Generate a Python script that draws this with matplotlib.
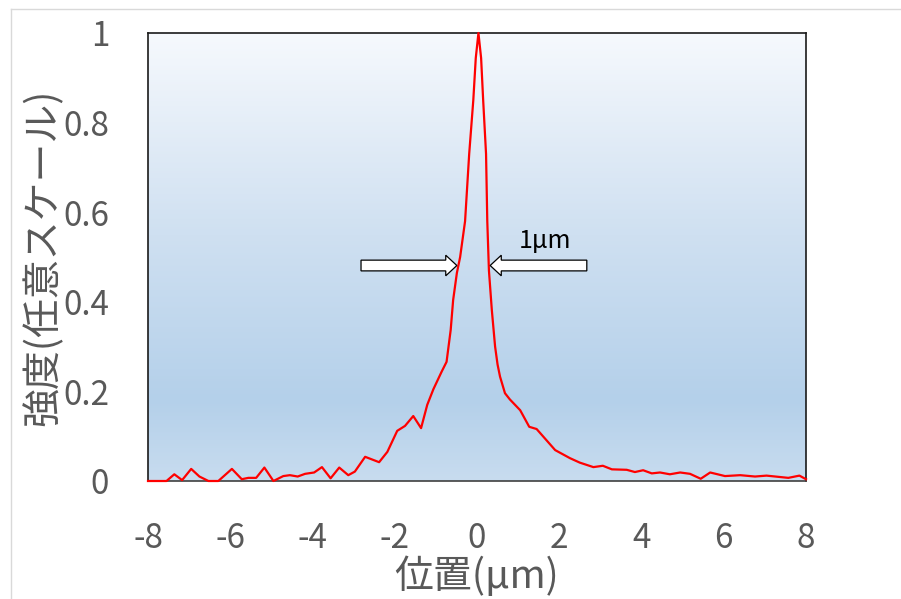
import matplotlib
matplotlib.use("Agg")
import matplotlib.pyplot as plt
import numpy as np
from matplotlib.colors import LinearSegmentedColormap
from matplotlib.patches import FancyArrow
from matplotlib.lines import Line2D

plt.rcParams['font.family'] = ['Noto Sans CJK JP', 'DejaVu Sans']

# intensity profile
pos = [-8.0, -7.55, -7.36, -7.17, -6.95, -6.75, -6.53, -6.29, -5.96, -5.72,
       -5.56, -5.37, -5.17, -4.95, -4.71, -4.55, -4.36, -4.18, -3.96, -3.77,
       -3.56, -3.35, -3.13, -2.97, -2.72, -2.38, -2.18, -1.94, -1.75, -1.55,
       -1.36, -1.21, -1.06, -0.86, -0.74, -0.64, -0.58, -0.49, -0.41, -0.29,
       -0.19, -0.09, -0.03, 0.035, 0.10, 0.15, 0.22, 0.25, 0.29, 0.36,
       0.44, 0.50, 0.56, 0.68, 0.80, 1.05, 1.27, 1.45, 1.90, 2.26,
       2.50, 2.83, 3.06, 3.28, 3.64, 3.84, 4.04, 4.25, 4.45, 4.69,
       4.94, 5.18, 5.44, 5.67, 6.03, 6.40, 6.76, 7.04, 7.57, 7.84, 8.0]
intensity = [0.0, 0.0, 0.015, 0.002, 0.027, 0.010, 0.0, 0.0, 0.027, 0.004,
             0.007, 0.007, 0.030, 0.0, 0.011, 0.013, 0.010, 0.016, 0.019, 0.031,
             0.006, 0.030, 0.013, 0.021, 0.054, 0.042, 0.065, 0.112, 0.123, 0.145,
             0.118, 0.170, 0.205, 0.244, 0.266, 0.337, 0.404, 0.464, 0.50, 0.58,
             0.73, 0.85, 0.944, 1.0, 0.944, 0.85, 0.73, 0.58, 0.47, 0.382,
             0.30, 0.26, 0.233, 0.196, 0.182, 0.158, 0.121, 0.116, 0.069, 0.051,
             0.041, 0.031, 0.034, 0.026, 0.025, 0.020, 0.024, 0.017, 0.019, 0.015,
             0.019, 0.016, 0.005, 0.019, 0.011, 0.013, 0.010, 0.012, 0.007, 0.012, 0.004]

xticks = [-8, -6, -4, -2, 0, 2, 4, 6, 8]
yticks = [0, 0.2, 0.4, 0.6, 0.8, 1]
ytick_labels = ['0', '0.2', '0.4', '0.6', '0.8', '1']

fig = plt.figure(figsize=(9.01, 5.99), dpi=100)
ax = fig.add_axes([148/901, 118/599, 658/901, 448/599])

# background gradient, white at top to blue near the bottom
cmap = LinearSegmentedColormap.from_list(
    'bg', [(0.0, '#c8dcef'), (0.18, '#b4d0ea'), (0.55, '#cfe0f1'), (1.0, '#f6f9fd')])
grad = np.linspace(0, 1, 256).reshape(-1, 1)
ax.imshow(grad, cmap=cmap, aspect='auto', extent=[-8, 8, 0, 1], origin='lower', zorder=0)

ax.plot(pos, intensity, color='#ff0000', lw=1.6, clip_on=False, zorder=3,
        solid_joinstyle='round')

ax.set_xlim(-8, 8)
ax.set_ylim(0, 1)
ax.set_xticks(xticks)
ax.set_xticklabels([str(t) for t in xticks])
ax.set_yticks(yticks)
ax.set_yticklabels(ytick_labels)
ax.tick_params(axis='both', length=0, labelsize=24, labelcolor='#595959')
ax.tick_params(axis='x', pad=29)
ax.tick_params(axis='y', pad=28)
for s in ax.spines.values():
    s.set_color('#1a1a1a')
    s.set_linewidth(1.2)
ax.spines['bottom'].set_color('#404040')

ax.set_xlabel('位置(μm)', fontsize=28, color='#595959', labelpad=0)
ax.set_ylabel('強度(任意スケール)', fontsize=28, color='#595959', labelpad=0)

# FWHM arrows
arrow_kw = dict(width=0.024, head_width=0.046, head_length=0.27,
                length_includes_head=True, fc='white', ec='black', lw=0.9, zorder=4)
ax.add_patch(FancyArrow(-2.82, 0.481, 2.33, 0, **arrow_kw))
ax.add_patch(FancyArrow(2.67, 0.481, -2.35, 0, **arrow_kw))
ax.text(1.65, 0.535, '1μm', fontsize=18, color='black', ha='center', va='center', zorder=4)

# light frame of the picture
fig.add_artist(Line2D([11/901, 1], [1 - 9/599, 1 - 9/599], color='#d9d9d9', lw=1))
fig.add_artist(Line2D([11/901, 11/901], [0, 1 - 9/599], color='#d9d9d9', lw=1))

fig.savefig('out.png', dpi=100)
